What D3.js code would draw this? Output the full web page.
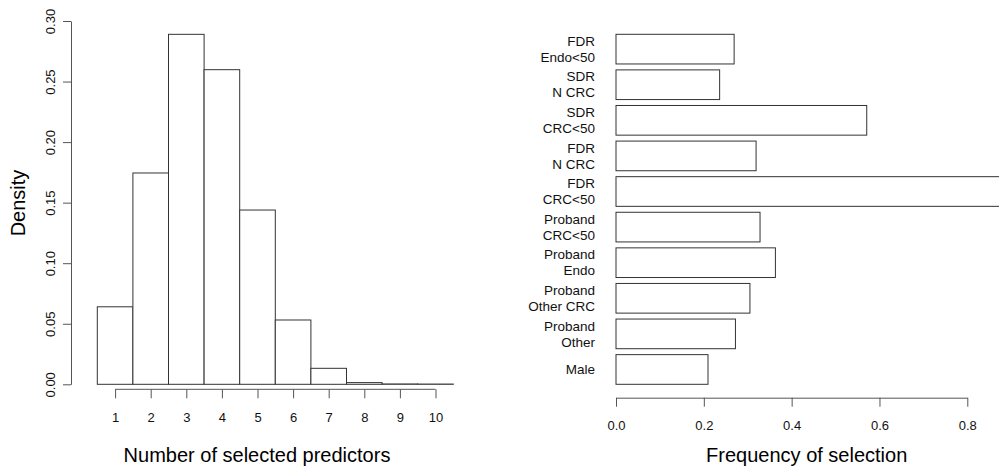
<!DOCTYPE html>
<html>
<head>
<meta charset="utf-8">
<script src="https://cdn.jsdelivr.net/npm/d3@7"></script>
<style>
  body { margin: 0; background: #fff; }
  svg { font-family: "Liberation Sans", Arial, Helvetica, sans-serif; }
  .axis path, .axis line { stroke: #555; }
  .axis text { fill: #111; }
</style>
</head>
<body>
<div id="chart"></div>
<script>
// histogram: number of selected predictors
var bins = [1, 2, 3, 4, 5, 6, 7, 8, 9, 10];
var density = [0.064, 0.1745, 0.289, 0.2598, 0.1439, 0.0531, 0.0132, 0.0014, 0.0003, 0.0002];
var densityTicks = [0, 0.05, 0.10, 0.15, 0.20, 0.25, 0.30];

// bar chart: frequency of selection (top to bottom)
var predictors = [
  ["FDR", "Endo<50"],
  ["SDR", "N CRC"],
  ["SDR", "CRC<50"],
  ["FDR", "N CRC"],
  ["FDR", "CRC<50"],
  ["Proband", "CRC<50"],
  ["Proband", "Endo"],
  ["Proband", "Other CRC"],
  ["Proband", "Other"],
  ["Male"]
];
var frequency = [0.269, 0.236, 0.571, 0.319, 0.92, 0.328, 0.363, 0.305, 0.272, 0.2095];
var freqTicks = [0, 0.2, 0.4, 0.6, 0.8];

var W = 999, H = 468;
var svg = d3.select("#chart").append("svg")
    .attr("width", W)
    .attr("height", H);

// ---------- left panel ----------
var x = d3.scaleLinear().domain([0.5, 10.5]).range([97.3, 453.3]);
var y = d3.scaleLinear().domain([0, 0.30]).range([384.3, 21]);

svg.selectAll(".hbar")
   .data(bins)
   .enter().append("rect")
   .attr("class", "hbar")
   .attr("x", function(d) { return x(d - 0.5); })
   .attr("width", function(d) { return x(d + 0.5) - x(d - 0.5); })
   .attr("y", function(d, i) { return y(density[i]); })
   .attr("height", function(d, i) { return y(0) - y(density[i]); })
   .attr("fill", "#fff")
   .attr("stroke", "#333")
   .attr("stroke-width", 1);

// x axis (R style: line from first to last tick, offset below)
var xAxis = svg.append("g")
   .attr("class", "axis")
   .attr("transform", "translate(0,389.3)")
   .call(d3.axisBottom(x).tickValues(bins).tickSize(9).tickSizeOuter(0).tickPadding(14));
xAxis.select(".domain").remove();
xAxis.append("line")
   .attr("x1", x(1)).attr("x2", x(10))
   .attr("stroke", "#555");
xAxis.selectAll("text").style("font-size", "13px");

// y axis with rotated labels
var yAxis = svg.append("g")
   .attr("class", "axis")
   .attr("transform", "translate(71,0)")
   .call(d3.axisLeft(y).tickValues(densityTicks).tickFormat(d3.format(".2f")).tickSize(8).tickSizeOuter(0));
yAxis.selectAll("text")
   .attr("transform", "rotate(-90)")
   .attr("x", 0)
   .attr("y", -21)
   .attr("dy", "0.35em")
   .style("text-anchor", "middle")
   .style("font-size", "13px");

svg.append("text")
   .attr("transform", "translate(18,203) rotate(-90)")
   .attr("dy", "0.35em")
   .attr("text-anchor", "middle")
   .style("font-size", "20px")
   .attr("fill", "#000")
   .text("Density");

svg.append("text")
   .attr("x", 257)
   .attr("y", 461.7)
   .attr("text-anchor", "middle")
   .style("font-size", "20px")
   .attr("fill", "#000")
   .text("Number of selected predictors");

// ---------- right panel ----------
var fx = d3.scaleLinear().domain([0, 0.8]).range([616, 967.3]);
var fy = d3.scaleBand()
   .domain(d3.range(predictors.length))
   .range([34.3, 384.3])
   .paddingInner(1 / 6)
   .paddingOuter(0);

svg.selectAll(".fbar")
   .data(frequency)
   .enter().append("rect")
   .attr("class", "fbar")
   .attr("x", fx(0))
   .attr("y", function(d, i) { return fy(i); })
   .attr("width", function(d) { return fx(d) - fx(0); })
   .attr("height", fy.bandwidth())
   .attr("fill", "#fff")
   .attr("stroke", "#333")
   .attr("stroke-width", 1);

var labels = svg.selectAll(".plabel")
   .data(predictors)
   .enter().append("text")
   .attr("class", "plabel")
   .attr("text-anchor", "end")
   .style("font-size", "13.5px")
   .attr("fill", "#111");
labels.each(function(d, i) {
  var cy = fy(i) + fy.bandwidth() / 2;
  var t = d3.select(this);
  d.forEach(function(line, j) {
    var off = d.length === 1 ? 0 : (j === 0 ? -8 : 8);
    t.append("tspan")
     .attr("x", 595)
     .attr("y", cy + off)
     .attr("dy", "0.35em")
     .text(line);
  });
});

var fAxis = svg.append("g")
   .attr("class", "axis")
   .attr("transform", "translate(0,397.7)")
   .call(d3.axisBottom(fx).tickValues(freqTicks).tickFormat(d3.format(".1f")).tickSize(9).tickSizeOuter(0).tickPadding(14));
fAxis.selectAll("text").style("font-size", "13px");

svg.append("text")
   .attr("x", 806.7)
   .attr("y", 461.7)
   .attr("text-anchor", "middle")
   .style("font-size", "20px")
   .attr("fill", "#000")
   .text("Frequency of selection");
</script>
</body>
</html>
